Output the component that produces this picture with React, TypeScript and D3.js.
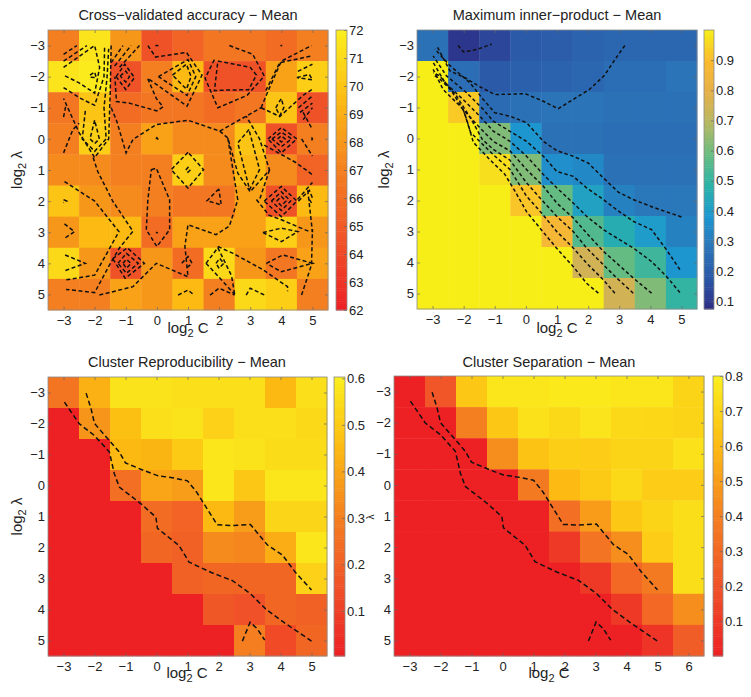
import { useEffect, useRef } from 'react';
import * as d3 from 'd3';

type Pt = [number, number];

const lambdas = [-3, -2, -1, 0, 1, 2, 3, 4, 5];
const cs9 = [-3, -2, -1, 0, 1, 2, 3, 4, 5];
const cs10 = [-3, -2, -1, 0, 1, 2, 3, 4, 5, 6];

const accuracy = [
  [67, 71.5, 68, 64.5, 65.5, 66.5, 66.5, 66, 67],
  [71.5, 71.8, 64.5, 67, 69.5, 64.5, 64.5, 68.5, 70.5],
  [66.5, 70, 66, 66.5, 66.5, 66, 66.5, 70, 64.5],
  [67, 70.5, 67, 68.5, 67.5, 67.5, 70, 64.5, 67],
  [67.5, 67.5, 67, 67, 70.5, 67.5, 69.5, 67.5, 65.5],
  [70, 68, 67.5, 67, 66.5, 66.5, 68.5, 64.5, 69.5],
  [68, 69.5, 69.5, 66, 68.5, 68.5, 68.5, 70.5, 68],
  [71, 68, 64.5, 68, 66, 71, 68, 66.5, 68.5],
  [67, 67, 68.5, 68, 69.5, 67, 71, 70.5, 67],
];

// contour lines, as [log2 C, log2 lambda]
const accuracyLines: Pt[][] = [
  [[-3, -2.72], [-2.57, -3]],
  [[-3, -2.5], [-2.25, -3]],
  [[-3, -2.3], [-2, -3], [-1.84, -2.3], [-2, -1.47], [-2.5, -1.8], [-3, -2.05]],
  [[-2.15, -2.05], [-2, -2.15], [-1.95, -1.97], [-2.15, -1.98]],
  [[-3, -1.65], [-2.45, -1.3], [-2, -1.08], [-1.7, -2], [-1.68, -3]],
  [[-1.47, -3], [-1.5, -1.5], [-1.55, 0], [-2, 0.6], [-2.5, -0.2], [-3, -1.3]],
  [[-3, -0.7], [-2.93, -1.05]],
  [[-3, 0.45], [-2.7, -0.3], [-2.5, -0.5]],
  [[-2.3, -0.9], [-2.4, 0], [-2, 0.4], [-1.63, 0], [-1.7, -1], [-1.6, -2], [-1.55, -2.9]],
  [[-2, -0.6], [-2.15, 0], [-2, 0.15], [-1.85, 0], [-2, -0.6]],
  [[-1.47, -2.45], [-1.09, -3]],
  [[-1.36, -2.34], [-0.83, -3]],
  [[-1.2, -2.3], [-0.56, -3]],
  [[-1.31, -2], [-1.03, -2.4], [-0.72, -1.97], [-1, -1.59], [-1.31, -2]],
  [[-1.18, -2.02], [-1, -2.18], [-0.88, -2], [-1, -1.83], [-1.18, -2.02]],
  [[-0.29, -3], [-0.04, -2.63], [0.95, -2.78], [1.45, -2.05], [0.97, -1.05], [-0.3, -1.95], [-0.02, -1.3], [0.2, -1.03], [0, -0.9], [-0.9, -1.15], [-1.3, -1.2], [-1.35, -2]],
  [[0.05, -2], [1, -2.55], [1.25, -2], [0.97, -1.4], [0.05, -2]],
  [[0.5, -2.05], [0.95, -2.4], [1.1, -2], [0.95, -1.6], [0.5, -2.05]],
  [[1.96, -2.5], [3, -2.3], [3.2, -2.05], [2.95, -1.58], [2.2, -1.57], [1.85, -1.55], [1.96, -2.5]],
  [[2.33, -3], [3.08, -2.72], [3.45, -2.02], [2.9, -1.4], [1.96, -1], [1.55, -1.95], [1.85, -2.55]],
  [[3.35, -1], [3.6, -1.6], [4, -2.5], [4.97, -3]],
  [[3.5, -1.55], [3.95, -2.45], [5, -2.67]],
  [[3.82, -1], [4, -1.3], [4.08, -1], [3.95, -0.75], [3.82, -1]],
  [[3.35, -1], [3.95, -0.72], [4.7, -1.4], [5, -1.6]],
  [[4.53, -2.17], [5, -2.4]],
  [[4.5, -1.97], [4.9, -2.07], [5, -1.9], [4.5, -1.97]],
  [[4.55, -1], [5, -1.38]],
  [[4.6, -0.85], [5, -1.15]],
  [[4.7, -0.62], [5, -1]],
  [[4.7, -0.85], [5, -0.3]],
  [[4.97, -0.05], [5, 0], [4.97, 0.05]],
  [[-1.47, -1], [-1.3, -0.6], [-0.99, 0.45], [-0.77, 0.02], [-0.02, -0.46], [1, -0.6], [2.02, -0.25], [2.87, -0.73], [3.35, -1]],
  [[-2.05, 0.6], [-1.9, 1.05], [-1.42, 2], [-0.77, 2.97], [-1.2, 3.5], [-1.55, 4.1], [-2, 4.94], [-2.92, 4.84]],
  [[-2.97, 1.37], [-2, 2], [-1.22, 2.98], [-2, 4.38], [-2.97, 4.54]],
  [[1, 0.43], [0.46, 0.99], [1, 1.58], [1.5, 0.99], [1, 0.43]],
  [[0.93, 1], [1, 0.92], [1.07, 1], [1, 1.07], [0.93, 1]],
  [[-0.18, 0.99], [-0.02, 0.94], [0.41, 1.96], [0.41, 2.92], [0, 3.46], [-0.34, 2.92], [-0.29, 1.96], [-0.18, 0.99]],
  [[-0.03, 3], [0.03, 3.03]],
  [[-0.03, 0], [0, -0.04], [0.03, 0], [0, 0.04], [-0.03, 0]],
  [[-0.05, -3], [0.05, -3]],
  [[3.97, -3], [4.03, -3]],
  [[1.99, 1.61], [1.61, 1.99], [2.07, 2.12], [1.99, 1.61]],
  [[2.96, -0.3], [2.6, 0.13], [2.98, 1.63], [3.3, 0.99], [2.96, -0.3]],
  [[2.02, -0.25], [2.28, -0.03], [2.6, 1.1], [3, 1.7], [3.62, 1], [3.3, 0], [2.87, -0.73]],
  [[-1.85, 5.02], [-0.77, 4.75], [-0.02, 4], [1, 4.43], [0.9, 3.45], [1, 2.76], [1.9, 3.08], [2.33, 2.8], [2.6, 1.96], [2.28, -0.03]],
  [[1.96, 3.46], [2.45, 3.68], [3.4, 4.2], [4.2, 4.75], [4.2, 4.9]],
  [[1.58, 4], [1.96, 3.5], [2.4, 4.4], [2.5, 5]],
  [[1.58, 4], [2, 4.45], [2.5, 5]],
  [[1.9, 4], [2.02, 3.84], [2.15, 4], [2, 4.16], [1.9, 4]],
  [[0.8, 4], [1, 3.78], [1.13, 4], [0.94, 4.16]],
  [[-1.42, 3.85], [-0.95, 3.5], [-0.4, 4], [-1.02, 4.48], [-1.42, 3.85]],
  [[-1.25, 4], [-0.98, 3.68], [-0.6, 4], [-0.98, 4.32], [-1.25, 4]],
  [[-1.09, 4], [-0.98, 3.87], [-0.83, 4], [-0.98, 4.16], [-1.09, 4]],
  [[-2.95, 3.73], [-2.3, 4], [-2.97, 4.24]],
  [[-2.97, 2.73], [-2.65, 2.98], [-2.97, 3.2]],
  [[-3, 1.95], [-2.9, 2], [-3, 2.05]],
  [[3.52, 4], [4.05, 3.73], [5, 4], [4, 4.27], [3.52, 4]],
  [[4.65, 5.02], [4.97, 4.05], [5, 2.9]],
  [[3.41, 3.01], [4, 2.87], [4.53, 2.98], [4, 3.3], [3.41, 3.01]],
  [[3.57, 0], [4, -0.36], [4.5, 0], [4, 0.45], [3.57, 0]],
  [[3.7, 0], [4, -0.22], [4.33, 0], [4, 0.25], [3.7, 0]],
  [[3.88, 0], [4, -0.1], [4.12, 0], [4, 0.1], [3.88, 0]],
  [[4.65, 0], [5, 0.55]],
  [[3.45, 0.2], [4.45, 0.75], [5, 1.15]],
  [[3.62, 1], [3.3, 1.95]],
  [[3.45, 2], [4, 1.53], [4.5, 2], [4, 2.5], [3.45, 2]],
  [[3.68, 2], [4, 1.7], [4.3, 2], [4, 2.3], [3.68, 2]],
  [[3.85, 2], [4, 1.85], [4.15, 2], [4, 2.15], [3.85, 2]],
  [[3.2, 1.95], [3.6, 2.45], [4, 2.6], [4.9, 2.98]],
  [[4.52, 1.95], [5, 1.4]],
  [[4.55, 2], [4.9, 1.65], [5, 1.9]],
  [[4.9, 1.95], [5, 2.1]],
  [[4.85, 1.65], [5, 3]],
  [[0.68, 5.02], [1, 4.86], [1.2, 5.02]],
  [[1.71, 5.02], [2, 4.8], [2.5, 5.02]],
  [[2.87, 5.02], [3, 4.8], [3.46, 5.02]],
];

const innerProduct = [
  [0.27, 0.1, 0.14, 0.19, 0.2, 0.22, 0.23, 0.23, 0.23],
  [1, 0.26, 0.19, 0.21, 0.22, 0.23, 0.26, 0.26, 0.28],
  [1, 0.93, 0.25, 0.27, 0.28, 0.28, 0.27, 0.27, 0.27],
  [1, 1, 0.62, 0.38, 0.27, 0.27, 0.26, 0.26, 0.26],
  [1, 1, 0.97, 0.62, 0.36, 0.34, 0.27, 0.27, 0.27],
  [1, 1, 1, 0.92, 0.58, 0.42, 0.32, 0.29, 0.29],
  [1, 1, 1, 1, 0.87, 0.55, 0.46, 0.4, 0.32],
  [1, 1, 1, 1, 1, 0.75, 0.58, 0.52, 0.38],
  [1, 1, 1, 1, 1, 1, 0.75, 0.62, 0.5],
];

const innerLines: Pt[][] = [
  [[-2.18, -3], [-2, -2.79], [-1.59, -2.87], [-1.1, -3.04]],
  [[3.18, -3], [2.9, -2.6], [2.52, -2.03], [2.04, -1.58], [1.52, -1.26], [1.04, -0.96], [0.56, -1.2], [-0.03, -1.45], [-0.51, -1.43], [-1, -1.42], [-1.48, -1.67], [-1.96, -1.96], [-2.44, -2.18], [-2.87, -3.0]],
  [[5, 2.53], [4.15, 2.24], [3.45, 1.97], [2.97, 1.73], [2.49, 1.27], [2, 0.79], [1.52, 0.57], [0.99, 0.39], [0.56, 0.09], [0.02, -0.51], [-0.51, -0.72], [-1, -0.83], [-1.37, -1.26], [-1.8, -1.8], [-2.44, -2.35], [-2.93, -2.89]],
  [[4.95, 4.23], [4.52, 3.59], [4.04, 2.94], [3.45, 2.67], [2.92, 2.3], [2.49, 1.97], [1.95, 1.59], [1.52, 1.22], [0.99, 1.06], [0.56, 0.57], [0.02, 0.09], [-0.51, -0.23], [-1.05, -0.56], [-1.37, -0.94], [-1.91, -1.48], [-2.55, -2.02], [-2.98, -2.66]],
  [[4.95, 4.97], [4.52, 4.45], [4.04, 3.97], [3.45, 3.53], [2.92, 3.21], [2.49, 2.94], [1.95, 2.51], [1.52, 2.08], [0.99, 1.59], [0.56, 1.16], [0.02, 0.57], [-0.51, 0.09], [-1.05, -0.24], [-1.48, -0.72], [-2.02, -1.26], [-2.6, -1.8], [-2.98, -2.45]],
  [[4.04, 4.99], [3.45, 4.5], [2.92, 4.02], [2.49, 3.64], [1.95, 3.05], [1.52, 2.56], [0.99, 2.08], [0.56, 1.54], [0.02, 1], [-0.51, 0.4], [-1.05, 0.09], [-1.53, -0.4], [-2.12, -1.05], [-2.66, -1.58], [-2.98, -2.23]],
  [[3.45, 4.99], [2.92, 4.5], [2.49, 4.07], [1.95, 3.53], [1.52, 3], [0.99, 2.51], [0.5, 1.97], [0.02, 1.43], [-0.51, 0.7], [-1.05, 0.35], [-1.4, 0.03], [-1.75, -0.61], [-2.23, -1.37], [-2.77, -2.02], [-2.98, -2.12]],
  [[2.86, 4.99], [2.49, 4.56], [1.95, 4.02], [1.52, 3.53], [0.99, 3], [0.5, 2.4], [0.02, 1.86], [-0.51, 1], [-1.05, 0.52], [-1.53, 0.05], [-1.78, -0.2], [-2, -0.9], [-2.4, -1.55], [-2.8, -1.95], [-2.98, -2.05]],
  [[2.33, 4.99], [1.95, 4.67], [1.52, 4.13], [1.04, 3.6], [0.5, 2.95], [0.02, 2.36], [-0.35, 1.7], [-0.68, 1.15], [-1.16, 0.68], [-1.69, 0.12], [-1.9, -0.6], [-2.02, -0.95]],
];

const reproducibility = [
  [0.27, 0.43, 0.57, 0.57, 0.56, 0.56, 0.56, 0.45, 0.56],
  [0, 0.36, 0.47, 0.56, 0.57, 0.52, 0.56, 0.56, 0.54],
  [0, 0, 0.45, 0.44, 0.5, 0.58, 0.57, 0.55, 0.55],
  [0, 0, 0.25, 0.4, 0.38, 0.58, 0.49, 0.58, 0.58],
  [0, 0, 0, 0.24, 0.21, 0.45, 0.38, 0.53, 0.53],
  [0, 0, 0, 0.22, 0.2, 0.33, 0.32, 0.42, 0.58],
  [0, 0, 0, 0, 0.2, 0.22, 0.22, 0.22, 0.52],
  [0, 0, 0, 0, 0, 0.17, 0.15, 0.22, 0.2],
  [0, 0, 0, 0, 0, 0, 0.3, 0.13, 0.22],
];

const separation = [
  [0, 0.22, 0.65, 0.77, 0.77, 0.78, 0.78, 0.77, 0.77, 0.7],
  [0, 0, 0.4, 0.65, 0.75, 0.72, 0.76, 0.72, 0.71, 0.7],
  [0, 0, 0, 0.45, 0.63, 0.68, 0.67, 0.7, 0.7, 0.75],
  [0, 0, 0, 0, 0.38, 0.6, 0.66, 0.72, 0.67, 0.67],
  [0, 0, 0, 0, 0, 0.33, 0.5, 0.65, 0.7, 0.74],
  [0, 0, 0, 0, 0, 0.1, 0.35, 0.45, 0.67, 0.74],
  [0, 0, 0, 0, 0, 0, 0.1, 0.3, 0.38, 0.74],
  [0, 0, 0, 0, 0, 0, 0, 0.1, 0.3, 0.45],
  [0, 0, 0, 0, 0, 0, 0, 0, 0.08, 0.25],
];

// both cluster panels carry the same three contour lines
const clusterLines: Pt[][] = [
  [[-2.27, -2.98], [-2.11, -2.47], [-2, -2], [-1.52, -1.45], [-1.2, -1.08], [-1, -0.73], [-0.4, -0.48], [0.03, -0.32], [0.57, -0.24], [1, -0.15], [1.3, 0.22], [1.5, 0.54], [1.96, 1.27], [2.4, 1.29], [3.03, 1.26], [3.58, 1.92], [4.06, 2.24], [4.48, 2.8], [5, 3.37]],
  [[-2.97, -2.69], [-2.49, -1.99], [-2, -1.61], [-1.52, -1.08], [-1.36, -0.38], [-1.2, 0.05], [-0.5, 0.59], [-0.02, 1.02], [0.03, 1.38], [0.73, 1.94], [1.05, 2.47], [1.75, 2.8], [2.45, 3.07], [3.04, 3.5], [3.52, 3.98], [4.1, 4.41], [5, 5.02]],
  [[2.77, 5.02], [3.02, 4.41], [3.25, 4.62], [3.49, 4.99]],
];

const hotStops = ['#ed2024', '#f05228', '#f47f20', '#fcba12', '#fbee1d'];
const parulaStops = ['#2d2c84', '#2b57a7', '#2b74b8', '#1d97d0', '#2bb3a8', '#69bd80', '#b5b863', '#e6b04a', '#fbb92e', '#f6ee16'];

const FONT = '"Liberation Sans", Arial, sans-serif';
const MINUS = '\u2212';
const fmtTick = (d: number) => String(d).replace('-', MINUS);

interface PanelProps {
  title: string;
  left: number;
  top: number;
  width: number;
  height: number;
  barLeft: number;
  barWidth: number;
  cols: number[];
  grid: number[][];
  lines: Pt[][];
  stops: string[];
  domain: [number, number];
  barTicks: number[];
  barFormat: (d: number) => string;
  dash: string;
  titleX: number;
  titleY: number;
  xLabelX: number;
  xLabelY: number;
  yLabelX?: number;
}

function Panel(p: PanelProps) {
  const ref = useRef<SVGGElement>(null);

  useEffect(() => {
    if (!ref.current) return;
    const g = d3.select(ref.current);
    g.selectAll('*').remove();

    const x = d3.scaleLinear().domain([p.cols[0] - 0.5, p.cols[p.cols.length - 1] + 0.5]).range([p.left, p.left + p.width]);
    const y = d3.scaleLinear().domain([-3.5, 5.5]).range([p.top, p.top + p.height]);
    const color = d3.scaleLinear<string>()
      .domain(d3.range(p.stops.length).map(i => p.domain[0] + (i / (p.stops.length - 1)) * (p.domain[1] - p.domain[0])))
      .range(p.stops)
      .clamp(true);

    // Heatmap cells
    p.grid.forEach((row, r) => {
      row.forEach((v, c) => {
        g.append('rect')
          .attr('x', x(p.cols[c] - 0.5))
          .attr('y', y(lambdas[r] - 0.5))
          .attr('width', x(p.cols[c] + 0.5) - x(p.cols[c] - 0.5) + 0.4)
          .attr('height', y(lambdas[r] + 0.5) - y(lambdas[r] - 0.5) + 0.4)
          .attr('fill', color(v));
      });
    });

    // Contours
    const line = d3.line<Pt>().x(d => x(d[0])).y(d => y(d[1]));
    p.lines.forEach(l => {
      g.append('path')
        .attr('d', line(l))
        .attr('fill', 'none')
        .attr('stroke', '#111')
        .attr('stroke-width', 1.5)
        .attr('stroke-dasharray', p.dash);
    });

    // Box and axes
    const styleAxis = (a: d3.Selection<SVGGElement, unknown, null, undefined>) => {
      a.selectAll('.domain').remove();
      a.selectAll('.tick line').attr('stroke', '#666').attr('stroke-width', 0.7);
      a.selectAll('text')
        .attr('font-family', FONT)
        .attr('font-size', 13)
        .attr('fill', '#222');
    };
    const xAxis = d3.axisBottom(x).tickValues(p.cols).tickSize(-3).tickFormat(d => fmtTick(+d)).tickPadding(6);
    const xa = g.append('g').attr('transform', `translate(0,${p.top + p.height})`).call(xAxis);
    styleAxis(xa);
    const xTop = d3.axisTop(x).tickValues(p.cols).tickSize(-3).tickFormat(() => '');
    styleAxis(g.append('g').attr('transform', `translate(0,${p.top})`).call(xTop));
    const yAxis = d3.axisLeft(y).tickValues(lambdas).tickSize(-3).tickFormat(d => fmtTick(+d)).tickPadding(3);
    styleAxis(g.append('g').attr('transform', `translate(${p.left},0)`).call(yAxis));
    const yRight = d3.axisRight(y).tickValues(lambdas).tickSize(-3).tickFormat(() => '');
    styleAxis(g.append('g').attr('transform', `translate(${p.left + p.width},0)`).call(yRight));
    g.append('rect')
      .attr('x', p.left)
      .attr('y', p.top)
      .attr('width', p.width)
      .attr('height', p.height)
      .attr('fill', 'none')
      .attr('stroke', '#8a8a8a')
      .attr('stroke-width', 0.8);

    // Colorbar
    const bar = d3.scaleLinear().domain(p.domain).range([p.top + p.height, p.top]);
    const steps = d3.range(0, 128);
    steps.forEach(i => {
      const v0 = p.domain[0] + (i / 128) * (p.domain[1] - p.domain[0]);
      const v1 = p.domain[0] + ((i + 1) / 128) * (p.domain[1] - p.domain[0]);
      g.append('rect')
        .attr('x', p.barLeft)
        .attr('y', bar(v1))
        .attr('width', p.barWidth)
        .attr('height', bar(v0) - bar(v1) + 0.5)
        .attr('fill', color((v0 + v1) / 2));
    });
    const barAxis = d3.axisRight(bar).tickValues(p.barTicks).tickSize(-3).tickFormat(d => p.barFormat(+d)).tickPadding(2);
    const ba = g.append('g').attr('transform', `translate(${p.barLeft + p.barWidth},0)`).call(barAxis);
    styleAxis(ba);
    g.append('rect')
      .attr('x', p.barLeft)
      .attr('y', p.top)
      .attr('width', p.barWidth)
      .attr('height', p.height)
      .attr('fill', 'none')
      .attr('stroke', '#8a8a8a')
      .attr('stroke-width', 0.8);

    // Title and labels
    g.append('text')
      .attr('x', p.titleX)
      .attr('y', p.titleY)
      .attr('text-anchor', 'middle')
      .attr('font-family', FONT)
      .attr('font-size', 14.5)
      .attr('fill', '#222')
      .text(p.title);

    const xl = g.append('text')
      .attr('x', p.xLabelX)
      .attr('y', p.xLabelY)
      .attr('text-anchor', 'middle')
      .attr('font-family', FONT)
      .attr('font-size', 15)
      .attr('fill', '#222');
    xl.append('tspan').text('log');
    xl.append('tspan').attr('dy', 4).attr('font-size', 11).text('2');
    xl.append('tspan').attr('dy', -4).text(' C');

    if (p.yLabelX !== undefined) {
      const cy = p.top + p.height / 2;
      const yl = g.append('text')
        .attr('transform', `translate(${p.yLabelX},${cy}) rotate(-90)`)
        .attr('text-anchor', 'middle')
        .attr('font-family', FONT)
        .attr('font-size', 15)
        .attr('fill', '#222');
      yl.append('tspan').text('log');
      yl.append('tspan').attr('dy', 4).attr('font-size', 11).text('2');
      yl.append('tspan').attr('dy', -4).text(' \u03bb');
    }
  }, []);

  return <g ref={ref} />;
}

const oneDecimal = (d: number) => d.toFixed(1);

export default function App() {
  return (
    <svg
      width={751}
      height={697}
      style={{ position: 'absolute', left: 0, top: 0, background: '#fff', display: 'block' }}
    >
      <Panel
        title={`Cross${MINUS}validated accuracy ${MINUS} Mean`}
        left={48} top={30} width={280} height={280}
        barLeft={336} barWidth={11}
        cols={cs9}
        grid={accuracy}
        lines={accuracyLines}
        stops={hotStops}
        domain={[62, 72]}
        barTicks={d3.range(62, 73)}
        barFormat={d => String(d)}
        dash="4 2.5"
        titleX={188} titleY={20}
        xLabelX={188} xLabelY={333}
        yLabelX={22}
      />
      <Panel
        title={`Maximum inner${MINUS}product ${MINUS} Mean`}
        left={417} top={30} width={280} height={279}
        barLeft={704} barWidth={10}
        cols={cs9}
        grid={innerProduct}
        lines={innerLines}
        stops={parulaStops}
        domain={[0.075, 1]}
        barTicks={[0.1, 0.2, 0.3, 0.4, 0.5, 0.6, 0.7, 0.8, 0.9]}
        barFormat={oneDecimal}
        dash="3.5 2.5"
        titleX={557} titleY={20}
        xLabelX={557} xLabelY={333}
        yLabelX={389}
      />
      <Panel
        title={`Cluster Reproducibility ${MINUS} Mean`}
        left={48} top={377} width={279} height={279}
        barLeft={334} barWidth={11}
        cols={cs9}
        grid={reproducibility}
        lines={clusterLines}
        stops={hotStops}
        domain={[0.003, 0.603]}
        barTicks={[0.1, 0.2, 0.3, 0.4, 0.5, 0.6]}
        barFormat={oneDecimal}
        dash="5 3"
        titleX={187} titleY={367}
        xLabelX={187} xLabelY={678}
        yLabelX={22}
      />
      <Panel
        title={`Cluster Separation ${MINUS} Mean`}
        left={394} top={376} width={310} height={280}
        barLeft={713} barWidth={10}
        cols={cs10}
        grid={separation}
        lines={clusterLines}
        stops={hotStops}
        domain={[0.001, 0.8]}
        barTicks={[0.1, 0.2, 0.3, 0.4, 0.5, 0.6, 0.7, 0.8]}
        barFormat={oneDecimal}
        dash="5 3"
        titleX={549} titleY={367}
        xLabelX={549} xLabelY={678}
      />
      <text
        transform="translate(374,517) rotate(-90)"
        textAnchor="middle"
        fontFamily={FONT}
        fontSize={10}
        fill="#222"
      >
        {'\u03bb'}
      </text>
    </svg>
  );
}
